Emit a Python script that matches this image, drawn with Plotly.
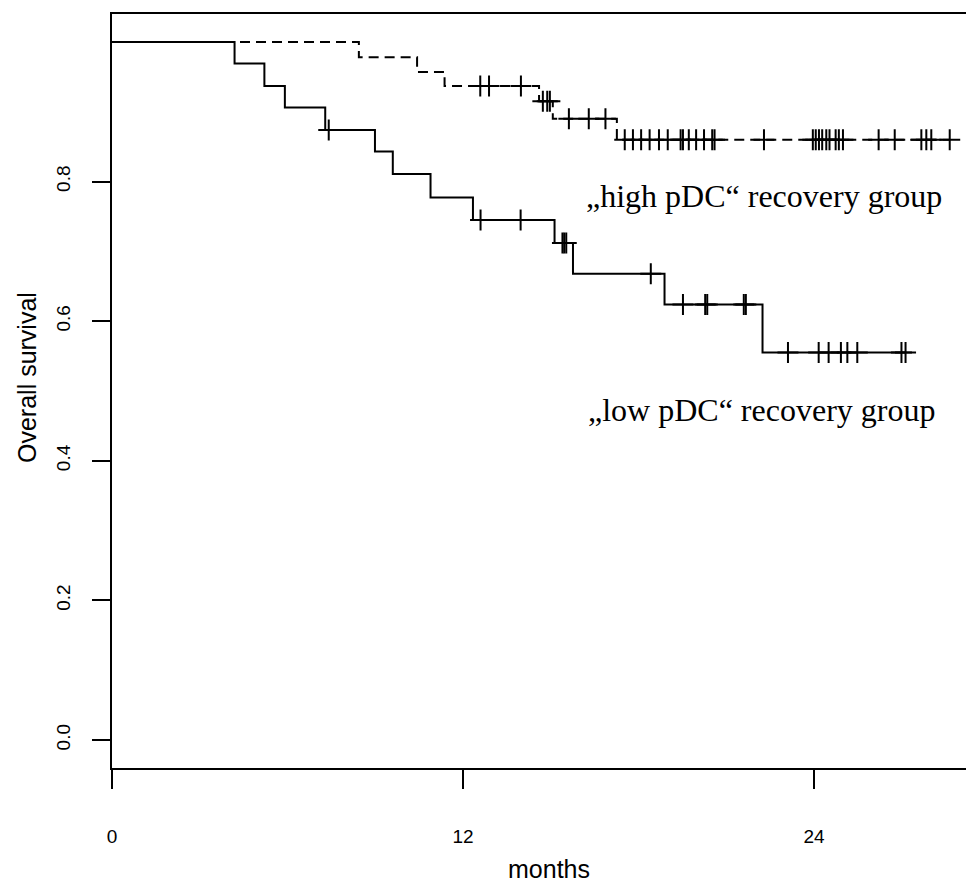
import numpy as np
import plotly.graph_objects as go

# ---- data (months / survival probability) ----
low_times = [0, 4.19, 5.21, 5.91, 7.29, 8.99, 9.60, 10.89, 12.34, 15.13, 15.76, 18.89, 22.24]
low_surv = [1.0, 0.969, 0.937, 0.906, 0.874, 0.843, 0.811, 0.777, 0.745, 0.712, 0.668, 0.624, 0.555]
low_end = 27.13
low_censor = [7.41, 12.60, 13.97, 15.40, 15.46, 15.53, 18.42, 19.52, 20.28, 20.35,
              21.60, 21.67, 23.11, 24.16, 24.50, 24.92, 25.14, 25.48, 26.99, 27.13]

high_times = [0, 8.44, 10.43, 11.37, 14.60, 15.07, 17.26]
high_surv = [1.0, 0.978, 0.957, 0.937, 0.915, 0.890, 0.860]
high_end = 28.64
high_censor = [12.59, 12.89, 13.98, 14.73, 14.88, 14.97, 15.62, 16.30, 16.87,
               17.53, 17.81, 18.09, 18.38, 18.70, 19.00, 19.44, 19.52, 19.72, 19.97,
               20.24, 20.52, 20.60, 22.29, 23.96, 24.06, 24.17, 24.28, 24.42, 24.53,
               24.74, 24.85, 24.99, 26.21, 26.76, 27.67, 27.84, 28.01, 28.64]

x_ticks = [0, 12, 24]
y_ticks = [0.0, 0.2, 0.4, 0.6, 0.8]
y_tick_labels = ["0.0", "0.2", "0.4", "0.6", "0.8"]
label_high = "\u201ehigh pDC\u201c recovery group"
label_low = "\u201elow pDC\u201c recovery group"


def surv_at(times, surv, t):
    idx = np.searchsorted(np.array(times), np.array(t), side="right") - 1
    return list(np.array(surv)[idx])


fig = go.Figure()

# high group (dashed)
fig.add_trace(go.Scatter(
    x=high_times + [high_end], y=high_surv + [high_surv[-1]],
    mode="lines", line=dict(color="black", width=2, dash="10px,6px", shape="hv"),
    hoverinfo="skip"))
fig.add_trace(go.Scatter(
    x=high_censor, y=surv_at(high_times, high_surv, high_censor),
    mode="markers", marker=dict(symbol="cross-thin", size=15, color="black",
                                line=dict(color="black", width=2)),
    hoverinfo="skip"))

# low group (solid)
fig.add_trace(go.Scatter(
    x=low_times + [low_end], y=low_surv + [low_surv[-1]],
    mode="lines", line=dict(color="black", width=2, shape="hv"),
    hoverinfo="skip"))
fig.add_trace(go.Scatter(
    x=low_censor, y=surv_at(low_times, low_surv, low_censor),
    mode="markers", marker=dict(symbol="cross-thin", size=15, color="black",
                                line=dict(color="black", width=2)),
    hoverinfo="skip"))

# page has an 8px body margin: figure is drawn at (8, 8)
OFF = 8
W, H = 974 - OFF, 882 - OFF
ML, MR, MT, MB = 112 - OFF, 0, 14 - OFF, H - (768 - OFF)
PW, PH = W - ML - MR, H - MT - MB


def px_to_paper(px, py):
    # px, py are page pixel positions in the reference
    fx, fy = px - OFF, py - OFF
    return (fx - ML) / PW, 1 - (fy - MT) / PH


ann = []
xh, yh = px_to_paper(584, 195.5)
ann.append(dict(x=xh, y=yh, xref="paper", yref="paper", text=label_high, showarrow=False,
                xanchor="left", yanchor="middle",
                font=dict(family="Liberation Serif", size=32, color="black")))
xl, yl = px_to_paper(586, 409.5)
ann.append(dict(x=xl, y=yl, xref="paper", yref="paper", text=label_low, showarrow=False,
                xanchor="left", yanchor="middle",
                font=dict(family="Liberation Serif", size=32, color="black")))
xt, yt = px_to_paper(549, 869)
ann.append(dict(x=xt, y=yt, xref="paper", yref="paper", text="months", showarrow=False,
                xanchor="center", yanchor="middle",
                font=dict(family="Liberation Sans", size=25, color="black")))
xy, yy = px_to_paper(27, 378)
ann.append(dict(x=xy, y=yy, xref="paper", yref="paper", text="Overall survival", showarrow=False,
                xanchor="center", yanchor="middle", textangle=-90,
                font=dict(family="Liberation Sans", size=25, color="black")))

fig.update_layout(
    width=W, height=H,
    margin=dict(l=ML, r=MR, t=MT, b=MB, pad=0),
    paper_bgcolor="white", plot_bgcolor="white",
    showlegend=False,
    annotations=ann,
    xaxis=dict(range=[0, 29.47], tickvals=x_ticks, ticks="outside", ticklen=19,
               tickwidth=1.5, tickcolor="black", showline=True, linewidth=2,
               linecolor="black", mirror=True, showgrid=False, zeroline=False,
               ticklabelstandoff=31,
               tickfont=dict(family="Liberation Sans", size=19, color="black")),
    yaxis=dict(range=[-0.04, 1.04], tickvals=y_ticks, ticktext=y_tick_labels,
               ticks="outside", ticklen=18, tickwidth=1.5, tickcolor="black",
               showline=True, linewidth=2, linecolor="black", showgrid=False,
               zeroline=False, tickangle=-90, ticklabelstandoff=14,
               tickfont=dict(family="Liberation Sans", size=19, color="black")),
)

fig.write_html("out.html")
